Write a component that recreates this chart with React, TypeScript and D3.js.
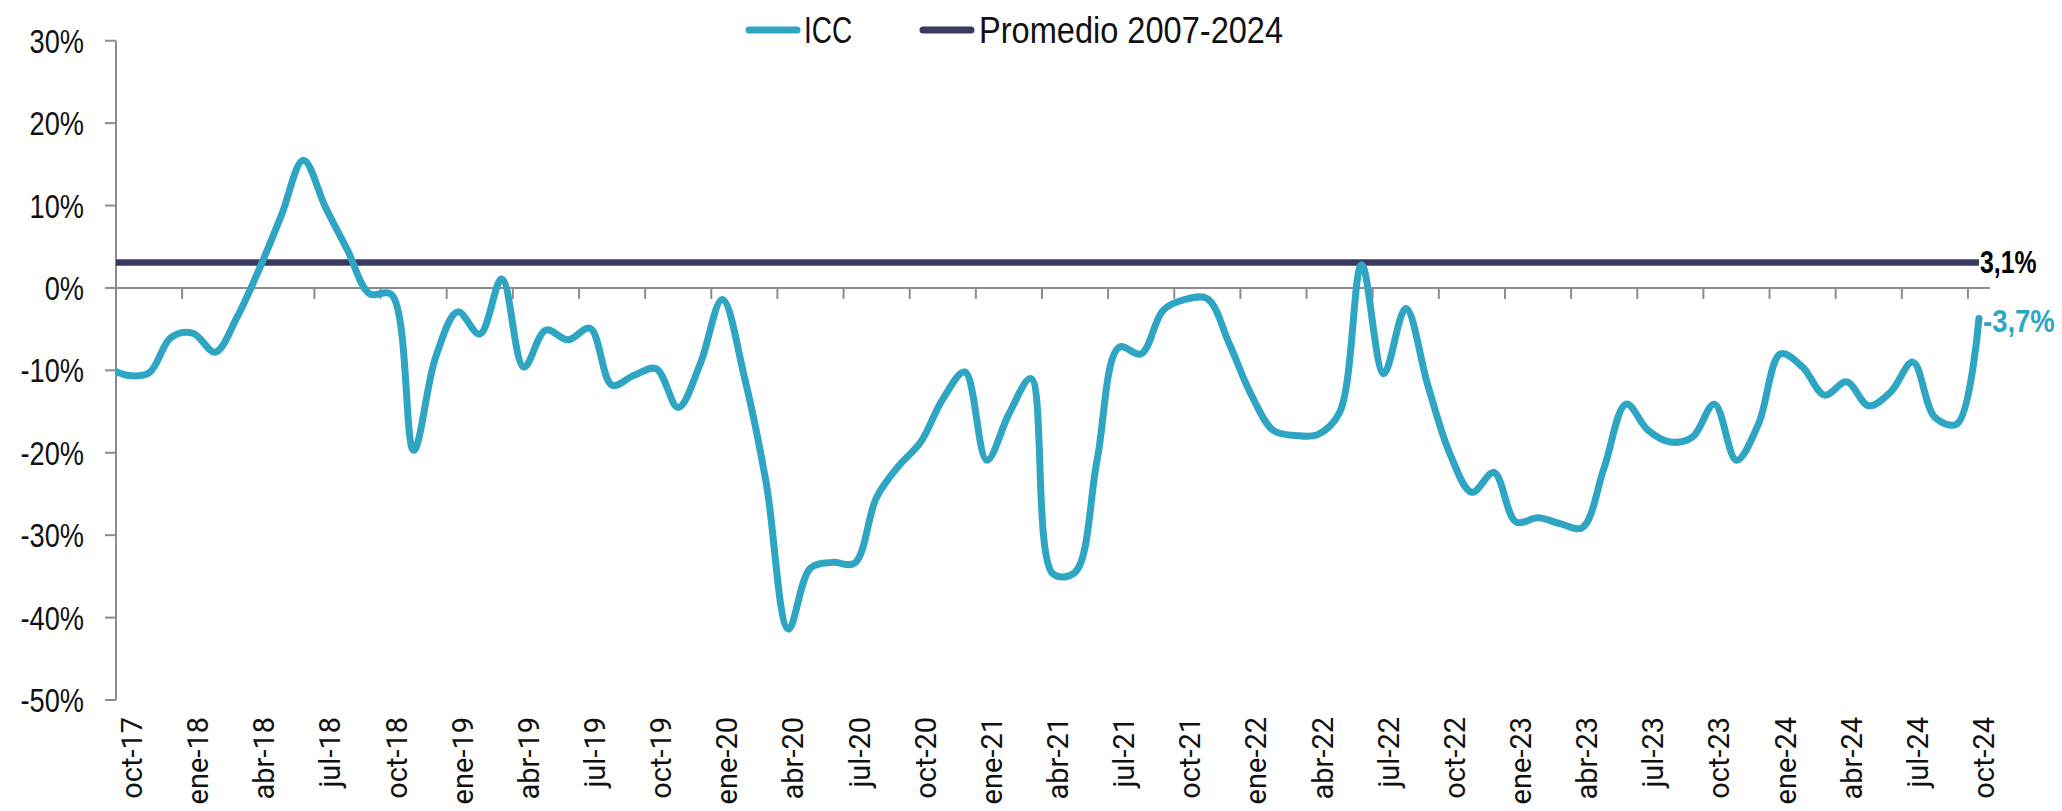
import React from "react";
import * as d3 from "d3";

// ICC monthly values (%), oct-17 .. oct-24
const ICC_PREV = -9.4; // sep-17 (clipped at the left edge)
const ICC: number[] = [
  -10.6, -10.3, -6.0, -5.5, -7.8, -3.5, 2.3, 8.8, 15.5, 9.8, 4.6, -0.7,
  -0.8, -19.7, -8.4, -2.9, -5.6, 1.1, -9.6, -5.1, -6.3, -4.9, -11.8, -10.6,
  -9.8, -14.5, -9.2, -1.4, -10.8, -23.8, -41.4, -34.0, -33.3, -33.4, -25.4, -21.6,
  -18.7, -13.5, -10.2, -20.9, -15.3, -11.0, -34.7, -34.5, -20.9, -7.2, -8.0, -2.7,
  -1.4, -1.3, -6.8, -13.0, -17.3, -17.9, -17.8, -15.1, 2.8, -10.4, -2.5, -11.8,
  -20.1, -24.8, -22.4, -28.4, -27.9, -28.6, -29.1, -21.8, -14.1, -17.3, -18.7, -18.1,
  -14.1, -20.9, -16.5, -8.0, -9.6, -13.0, -11.4, -14.3, -12.6, -9.0, -15.7, -16.5,
  -3.7,
];
const AVG = 3.1; // Promedio 2007-2024

const TICK_LABELS: string[] = [
  "oct-17", "ene-18", "abr-18", "jul-18", "oct-18", "ene-19", "abr-19", "jul-19",
  "oct-19", "ene-20", "abr-20", "jul-20", "oct-20", "ene-21", "abr-21", "jul-21",
  "oct-21", "ene-22", "abr-22", "jul-22", "oct-22", "ene-23", "abr-23", "jul-23",
  "oct-23", "ene-24", "abr-24", "jul-24", "oct-24",
];
const Y_TICKS: number[] = [30, 20, 10, 0, -10, -20, -30, -40, -50];
const SERIES_NAMES = ["ICC", "Promedio 2007-2024"];

const W = 2062;
const H = 811;
const TEAL = "#2ea6c3";
const NAVY = "#383b5f";
const GRAY = "#8c8c8c";
const SANS = "'Liberation Sans', Arial, sans-serif";
const SQ = 0.8; // horizontal squeeze to emulate a condensed face

function fmt(v: number) {
  return `${v.toFixed(1).replace(".", ",")}%`;
}

export default function App() {
  const n = ICC.length;
  const left = 116;
  const right = 1990;
  const x = d3.scaleLinear().domain([0, n]).range([left, right]);
  const y = d3.scaleLinear().domain([-50, 30]).range([700, 40.7]);

  const pts: [number, number][] = [[-1, ICC_PREV], ...ICC.map((v, i) => [i, v] as [number, number])];
  const line = d3
    .line<[number, number]>()
    .x((d) => x(d[0] + 0.5))
    .y((d) => y(d[1]))
    .curve(d3.curveCatmullRom.alpha(0.5));

  const avgPts: [number, number][] = [[-1, AVG], [n - 1, AVG]];
  const avgLine = d3
    .line<[number, number]>()
    .x((d) => x(d[0] + 0.5))
    .y((d) => y(d[1]));

  const y0 = y(0);
  const lastX = x(n - 1 + 0.5);

  return (
    <svg
      width={W}
      height={H}
      style={{ position: "absolute", left: 0, top: 0, background: "#fff" }}
    >
      <defs>
        <clipPath id="plot">
          <rect x={left} y={0} width={right - left} height={H} />
        </clipPath>
      </defs>

      {/* y axis */}
      <line x1={left} x2={left} y1={y(30)} y2={y(-50)} stroke={GRAY} strokeWidth={2} />
      {Y_TICKS.map((t) => (
        <g key={t}>
          <line x1={left - 11} x2={left} y1={y(t)} y2={y(t)} stroke={GRAY} strokeWidth={2} />
          <text
            transform={`translate(84,${y(t) + 12}) scale(${SQ},1)`}
            textAnchor="end"
            fontFamily={SANS}
            fontSize={34}
            fill="#111"
          >
            {`${t}%`}
          </text>
        </g>
      ))}

      {/* x axis at zero */}
      <line x1={left} x2={right} y1={y0} y2={y0} stroke={GRAY} strokeWidth={2} />
      {TICK_LABELS.map((lab, k) => {
        const tx = x(k * 3);
        const lx = x(k * 3 + 0.5) + 5;
        return (
          <g key={lab}>
            <line x1={tx} x2={tx} y1={y0} y2={y0 + 11} stroke={GRAY} strokeWidth={2} />
            <text
              transform={`translate(${lx},717) rotate(-90)`}
              textAnchor="end"
              dominantBaseline="central"
              fontFamily="Roboto, sans-serif"
              fontSize={29}
              fill="#111"
            >
              {lab}
            </text>
          </g>
        );
      })}

      {/* series */}
      <g clipPath="url(#plot)">
        <path d={avgLine(avgPts) || ""} fill="none" stroke={NAVY} strokeWidth={6.5} />
        <path
          d={line(pts) || ""}
          fill="none"
          stroke={TEAL}
          strokeWidth={7}
          strokeLinejoin="round"
          strokeLinecap="round"
        />
      </g>

      {/* end labels */}
      <text
        transform={`translate(${lastX + 1},${y(AVG) + 10.5}) scale(0.8,1)`}
        fontFamily={SANS}
        fontWeight="bold"
        fontSize={31}
        fill="#000"
      >
        {fmt(AVG)}
      </text>
      <text
        transform={`translate(${lastX + 4},${y(ICC[n - 1]) + 13.5}) scale(0.86,1)`}
        fontFamily={SANS}
        fontWeight="bold"
        fontSize={32}
        fill={TEAL}
      >
        {fmt(ICC[n - 1])}
      </text>

      {/* legend */}
      <line x1={749} x2={797} y1={30} y2={30} stroke={TEAL} strokeWidth={7} strokeLinecap="round" />
      <text transform={`translate(804,42.7) scale(0.76,1)`} fontFamily={SANS} fontSize={37} fill="#111">
        {SERIES_NAMES[0]}
      </text>
      <line x1={923} x2={971} y1={30} y2={30} stroke={NAVY} strokeWidth={7} strokeLinecap="round" />
      <text transform={`translate(979,42.7) scale(0.88,1)`} fontFamily={SANS} fontSize={37} fill="#111">
        {SERIES_NAMES[1]}
      </text>
    </svg>
  );
}
